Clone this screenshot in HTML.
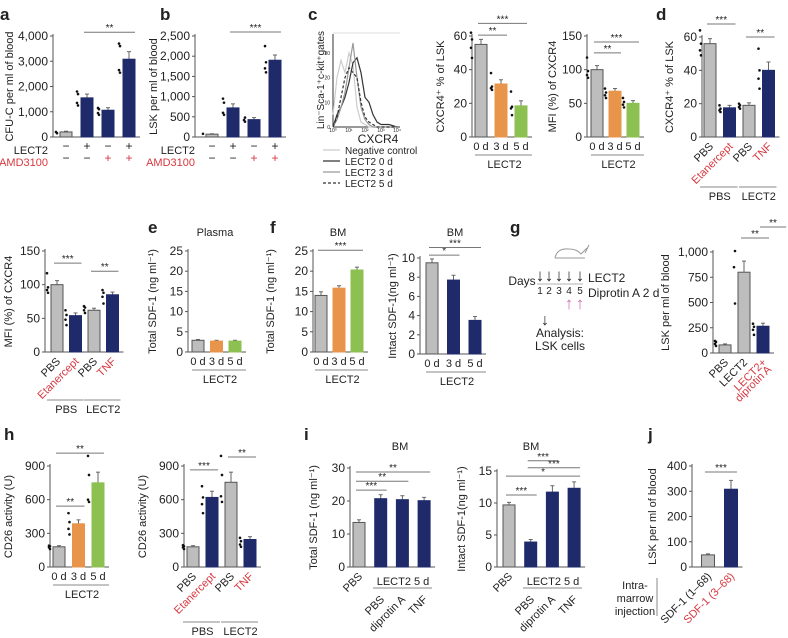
<!DOCTYPE html>
<html><head><meta charset="utf-8"><style>
body{margin:0;background:#fff}
svg{display:block;font-family:"Liberation Sans",sans-serif}
</style></head><body>
<svg id="fig" width="788" height="638" viewBox="0 0 788 638" xmlns="http://www.w3.org/2000/svg"></svg>
<script>
// ---- data ----
const aVals=[200,1550,1060,3080], aErr=[30,150,100,300], aDots=[[150,200],[1250,1350,1700,1800],[880,950,1100,1150],[2550,2650,3600,3700]];
const bVals=[70,720,430,1900], bErr=[10,100,50,130], bDots=[[80],[550,600,850,950],[380,420,480],[1600,1700,1850,2250]];
const c2Vals=[55,31.5,18.5], c2Err=[3,2.5,3], c2Dots=[[47,53,58,62],[28,29,30,38],[13,17,18,27]];
const c3Vals=[100,68,50], c3Err=[6,4,4], c3Dots=[[88,92,98,118],[58,62,66,72],[44,48,52,58]];
const dVals=[56,17.5,19,40], dErr=[3,1.5,1.5,5], dDots=[[49,52,56,64],[15,16,17,19],[17,18,19,20],[29,35,40,53]];
const d2Vals=[100,54,62,85], d2Err=[6,4,3,4], d2Dots=[[88,92,96,117],[40,48,55,62],[58,62,66,68],[72,82,88,92]];
const eVals=[2.9,2.7,2.7], eErr=[0.2,0.2,0.2];
const fVals=[14,15.8,20.3], fErr=[0.9,0.6,0.7];
const f2Vals=[9.5,7.7,3.5], f2Err=[0.4,0.5,0.4];
const gVals=[80,800,265], gErr=[10,110,30], gDots=[[70,90,110,120],[490,850,1010],[180,230,260,290]];
const h1Vals=[180,385,750], h1Err=[10,35,95], h1Dots=[[160,175,185,190],[290,340,400,480],[580,600,820,990]];
const h2Vals=[180,620,755,245], h2Err=[10,55,90,25], h2Dots=[[160,175,185,195],[480,560,620,720],[580,630,820,990],[180,200,230,260]];
const i1Vals=[13.5,20.7,20.4,20.1], i1Err=[0.8,1.2,1.2,1.0];
const i2Vals=[9.7,3.9,11.7,12.3], i2Err=[0.4,0.4,1.0,1.0];
const jVals=[48,308], jErr=[4,35];
const histX=[0,0.25,0.5,0.75,1,1.25,1.5,1.75,2,2.25,2.5,2.75,3,3.5,4];
const histNeg=[5,20,27,22,30,25,8,2,1,0,0,0,0,0,0];
const hist0=[0,5,8,12,18,26,28,22,12,10,5,2,1,1,0];
const hist3=[0,3,8,14,24,34,20,8,3,1,0,0,0,0,0];
const hist5=[0,4,12,20,24,22,20,10,4,2,1,0,0,0,0];

const G='#bdbdbd',N='#1f2a6b',O='#e8944a',GR='#8cc152',RED='#d8383f';
const S=document.getElementById('fig');
const NS='http://www.w3.org/2000/svg';
function el(tag,attrs,txt){const e=document.createElementNS(NS,tag);for(const k in attrs)e.setAttribute(k,attrs[k]);if(txt!==undefined)e.textContent=txt;S.appendChild(e);return e;}
function txt(x,y,s,size,opt){opt=opt||{};const e=el('text',{x:x,y:y,'font-size':size,fill:opt.fill||'#222','text-anchor':opt.anchor||'middle','font-weight':opt.bold?'bold':'normal'},s);
 if(opt.rot!==undefined)e.setAttribute('transform','rotate('+opt.rot+' '+x+' '+y+')');
 
 return e;}
function line(x1,y1,x2,y2,c,w,dash){const e=el('line',{x1:x1,y1:y1,x2:x2,y2:y2,stroke:c||'#444','stroke-width':w||1});if(dash)e.setAttribute('stroke-dasharray',dash);return e;}

function panel(p){
 const sy=v=>p.y0-(v/p.max)*(p.y0-p.y1);
 const cx=i=>p.start+i*p.step;
 const n=p.vals.length, w=p.w||12;
 const right=cx(n-1)+w/2+5;
 const ya=line(p.ax,p.y1-2,p.ax,p.y0,'#555',1);
 
 const xa=line(p.ax,p.y0,right,p.y0,'#555',1);
 
 p.ticks.forEach(t=>{line(p.ax-3,sy(t),p.ax,sy(t),'#555',1);
  txt(p.ax-5,sy(t)+4,t.toLocaleString('en-US'),p.tfs||12,{anchor:'end',name:p.id+'-tick-label'});});
 txt(p.tx,(p.y0+p.y1)/2,p.title,p.yfs||11,{rot:-90,name:p.id+'-y-axis-title'});
 p.vals.forEach((v,i)=>{
  const x=cx(i)-w/2,yt=sy(v);
  if(p.err){line(cx(i),yt,cx(i),sy(v+p.err[i]),'#666',1);line(cx(i)-2,sy(v+p.err[i]),cx(i)+2,sy(v+p.err[i]),'#666',1);}
  const r=el('rect',{x:x,y:yt,width:w,height:p.y0-yt,fill:p.colors[i],stroke:p.colors[i]===G?'#555':p.colors[i],'stroke-width':1});
  
  
  if(p.dots)p.dots[i].forEach((d,k)=>{const c=el('circle',{cx:x-3-(k%2),cy:sy(d),r:1.3,fill:'#111'});
   
   });
 });
 (p.sig||[]).forEach(s=>{const yy=sy(s[2]);const x1=cx(s[0])-3,x2=cx(s[1])+6;
  const l=line(x1,yy,x2,yy,'#777',1);
  txt((x1+x2)/2,yy-1,s[3],10,{name:p.id+'-significance-stars'});});
 if(p.xl){const ly=p.y0+13;p.xl.forEach((s,i)=>txt(cx(i),ly,s,11,{name:p.id+'-x-label'}));
  if(p.group){line(cx(0)-w/2,ly+5,right,ly+5,'#888',1);txt((cx(0)+right)/2-2,ly+18,p.group,11,{name:p.id+'-group-label'});}}
 if(p.rl){p.rl.forEach((s,i)=>txt(cx(i)+4,p.y0+10,s[0],11,{anchor:'end',rot:-45,fill:s[1]?RED:'#222',name:p.id+'-x-label'}));}
 if(p.groups){p.groups.forEach(g=>{line(cx(g[0])-w/2-4,g[3],cx(g[1])+w/2+2,g[3],'#888',1);txt((cx(g[0])+cx(g[1]))/2,g[3]+13,g[2],11,{name:p.id+'-group-label'});});}
 return {sy,cx};
}
function letter(x,y,s){txt(x,y,s,17,{anchor:'start',bold:true,name:'panel-letter-'+s});}

// ---- Row 1 ----
letter(0,20,'a');
panel({id:'a',ax:53,y0:137,y1:36,max:4000,ticks:[0,1000,2000,3000,4000],vals:aVals,err:aErr,dots:aDots,colors:[G,N,N,N],start:66,step:21,tx:13,title:'CFU-C per ml of blood',sig:[[1,3,4150,'**']]});
[['−','+','−','+'],['−','−','+','+']].forEach((r,ri)=>r.forEach((s,i)=>txt(66+i*21,150+ri*12,s,12,{fill:ri&&s=='+'?RED:'#222',name:'a-treatment-sign'})));
txt(48,154,'LECT2',11,{anchor:'end',name:'a-lect2-label'});txt(48,166,'AMD3100',11,{anchor:'end',fill:RED,name:'a-amd3100-label'});
letter(160,20,'b');
panel({id:'b',ax:195,y0:137,y1:36,max:2500,ticks:[0,500,1000,1500,2000,2500],vals:bVals,err:bErr,dots:bDots,colors:[G,N,N,N],start:212,step:21,tx:157,title:'LSK per ml of blood',sig:[[1,3,2600,'***']]});
[['−','+','−','+'],['−','−','+','+']].forEach((r,ri)=>r.forEach((s,i)=>txt(212+i*21,150+ri*12,s,12,{fill:ri&&s=='+'?RED:'#222',name:'b-treatment-sign'})));
txt(195,154,'LECT2',11,{anchor:'end',name:'b-lect2-label'});txt(195,166,'AMD3100',11,{anchor:'end',fill:RED,name:'b-amd3100-label'});

letter(308,20,'c');
(function(){const hx=v=>333+v*16,hy=v=>127-v*2.47;
 line(333,34,333,127,'#333',1);line(333,127,400,127,'#333',1);
 line(333,33,400,33,'#ddd',1);
 [0,10,20,30].forEach(t=>txt(330,hy(t)+2,t,5,{anchor:'end',name:'c-hist-tick'}));
 [0,1,2,3,4].forEach(t=>txt(hx(t),132,'10'+['⁰','¹','²','³','⁴'][t],5,{name:'c-hist-xtick'}));
 const series=[[histNeg,'#ccc',null,'negative-control-line'],[hist0,'#333',null,'lect2-0d-line'],[hist3,'#999',null,'lect2-3d-line'],[hist5,'#333','3,2','lect2-5d-line']];
 series.forEach(s=>{const pts=histX.map((x,i)=>hx(x)+','+hy(s[0][i])).join(' ');
  const pl=el('polyline',{points:pts,fill:'none',stroke:s[1],'stroke-width':1.2});if(s[2])pl.setAttribute('stroke-dasharray',s[2]);
  });
 txt(324,80,'Lin⁻Sca-1⁺c-kit⁺gates',10,{rot:-90,name:'c-hist-y-title'});
 txt(378,143,'CXCR4',12,{name:'c-hist-x-title'});
 const leg=[['Negative control','#ccc',null],['LECT2 0 d','#333',null],['LECT2 3 d','#999',null],['LECT2 5 d','#333','3,2']];
 leg.forEach((l,i)=>{const y=150+i*11;const ln=line(323,y,340,y,l[1],1.3,l[2]);txt(345,y+4,l[0],10,{anchor:'start',name:'legend-entry'});});
})();
panel({id:'c2',ax:472,y0:137,y1:36,max:60,ticks:[0,20,40,60],vals:c2Vals,err:c2Err,dots:c2Dots,colors:[G,O,GR],start:481,step:20,tx:444,title:'CXCR4⁺ % of LSK',sig:[[0,1,60.5,'**'],[0,2,67.5,'***']],xl:['0 d','3 d','5 d'],group:'LECT2'});
panel({id:'c3',ax:587,y0:137,y1:36,max:150,ticks:[0,50,100,150],vals:c3Vals,err:c3Err,dots:c3Dots,colors:[G,O,GR],start:597,step:18,tx:556,title:'MFI (%) of CXCR4',sig:[[0,1,125,'**'],[0,2,141,'***']],xl:['0 d','3 d','5 d'],group:'LECT2'});
letter(656,20,'d');
panel({id:'d',ax:702,y0:137,y1:37,max:60,ticks:[0,20,40,60],vals:dVals,err:dErr,dots:dDots,colors:[G,N,G,N],start:710,step:19.5,tx:673,title:'CXCR4⁺ % of LSK',sig:[[0,1,67.8,'***'],[2,3,60,'**']],rl:[['PBS'],['Etanercept',1],['PBS'],['TNF',1]],groups:[[0,1,'PBS',187],[2,3,'LECT2',187]]});

// ---- Row 2 ----
panel({id:'d2',ax:45,y0:352,y1:251,max:150,ticks:[0,50,100,150],vals:d2Vals,err:d2Err,dots:d2Dots,colors:[G,N,G,N],start:57,step:18.5,tx:12,title:'MFI (%) of CXCR4',sig:[[0,1,132,'***'],[2,3,120,'**']],rl:[['PBS'],['Etanercept',1],['PBS'],['TNF',1]],groups:[[0,1,'PBS',400],[2,3,'LECT2',400]]});
letter(148,233,'e');txt(215,236,'Plasma',11,{name:'e-title'});
panel({id:'e',ax:188,y0:352,y1:251,max:25,ticks:[0,5,10,15,20,25],vals:eVals,err:eErr,colors:[G,O,GR],start:198,step:18.5,tx:156,title:'Total SDF-1 (ng ml⁻¹)',xl:['0 d','3 d','5 d'],group:'LECT2'});
letter(270,233,'f');txt(338,236,'BM',11,{name:'f-title'});
panel({id:'f',ax:313,y0:352,y1:251,max:25,ticks:[0,5,10,15,20,25],vals:fVals,err:fErr,colors:[G,O,GR],start:321,step:18,tx:274,title:'Total SDF-1 (ng ml⁻¹)',sig:[[0,2,25.2,'***']],xl:['0 d','3 d','5 d'],group:'LECT2'});
txt(455,236,'BM',11,{name:'f2-title'});
panel({id:'f2',ax:420,y0:354,y1:258,max:10,ticks:[0,2,4,6,8,10],vals:f2Vals,err:f2Err,colors:[G,N,N],start:432,step:21.5,tx:396,title:'Intact  SDF-1(ng ml⁻¹)',sig:[[0,1,10.3,'*'],[0,2,11.1,'***']],xl:['0 d','3 d','5 d'],group:'LECT2'});
letter(510,233,'g');
(function(){const m=el('path',{d:'M555 258 q2 -10 14 -9 q8 0 12 5 l6 -6 M555 258 l30 0 M585 253 l4 -8',fill:'none',stroke:'#999','stroke-width':1});
 
 txt(522,285,'Days',12,{name:'days-label'});
 [540,549,559,569,580].forEach((x,i)=>{txt(x,281,'↓',17,{name:'lect2-injection-arrow'});txt(x,294,String(i+1),10,{name:'day-number'});});
 line(537,284,583,284,'#999',0.7);
 [569,580].forEach(x=>txt(x,309,'↑',17,{fill:'#d070b0',name:'diprotin-arrow'}));
 txt(588,282,'LECT2',12,{anchor:'start',name:'lect2-legend'});
 txt(588,297,'Diprotin A 2 d',12,{anchor:'start',name:'diprotin-legend'});
 txt(545,325,'↓',16,{name:'analysis-arrow'});
 txt(560,337,'Analysis:',12,{name:'analysis-label'});txt(560,350,'LSK cells',12,{name:'lsk-cells-label'});
})();
panel({id:'g',ax:713,y0:353,y1:252,max:1000,ticks:[0,250,500,750,1000],vals:gVals,err:gErr,dots:gDots,colors:[G,G,N],start:725,step:19,tx:669,title:'LSK per ml of blood',sig:[[1,2,1139,'**'],[2,2.9,1247,'**']],rl:[['PBS'],['LECT2'],['LECT2+',1]]});
txt(772,370,'diprotin A',11,{anchor:'end',rot:-45,fill:RED,name:'g-x-label'});

// ---- Row 3 ----
letter(4,440,'h');
panel({id:'h1',ax:50,y0:567,y1:466,max:900,ticks:[0,300,600,900],vals:h1Vals,err:h1Err,dots:h1Dots,colors:[G,O,GR],start:59,step:19.5,tx:12,title:'CD26 activity (U)',sig:[[0,1,543,'**'],[0,2,1015,'**']],xl:['0 d','3 d','5 d'],group:'LECT2'});
panel({id:'h2',ax:184,y0:567,y1:466,max:900,ticks:[0,300,600,900],vals:h2Vals,err:h2Err,dots:h2Dots,colors:[G,N,G,N],start:193,step:19,tx:146,title:'CD26 activity (U)',sig:[[0,1,865,'***'],[2,3,980,'**']],rl:[['PBS'],['Etanercept',1],['PBS'],['TNF',1]],groups:[[0,1,'PBS',622],[2,3,'LECT2',622]]});
letter(304,440,'i');txt(400,450,'BM',11,{name:'i1-title'});
panel({id:'i1',ax:350,y0:567,y1:468,max:30,ticks:[0,10,20,30],vals:i1Vals,err:i1Err,colors:[G,N,N,N],start:359,step:21.7,tx:317,title:'Total SDF-1 (ng ml⁻¹)',sig:[[0,1,23.3,'***'],[0,2,26,'**'],[0,3,28.8,'**']],rl:[['PBS']]});
[['PBS',381],['diprotin A',402],['TNF',424]].forEach(s=>txt(s[1]+4,600,s[0],11,{anchor:'end',rot:-45,name:'i1-x-label'}));
line(373,588,432,588,'#888',1);txt(403,585,'LECT2  5 d',11,{name:'i1-group-label'});
txt(531,450,'BM',11,{name:'i2-title'});
panel({id:'i2',ax:497,y0:567,y1:471,max:15,ticks:[0,5,10,15],vals:i2Vals,err:i2Err,colors:[G,N,N,N],start:509,step:21.7,tx:465,title:'Intact  SDF-1(ng ml⁻¹)',sig:[[0,1,11.25,'***'],[0,3,14.2,'*'],[1,3,15.5,'***'],[1,2,16.6,'***']],rl:[['PBS']]});
[['PBS',531],['diprotin A',552],['TNF',574]].forEach(s=>txt(s[1]+4,600,s[0],11,{anchor:'end',rot:-45,name:'i2-x-label'}));
line(523,588,582,588,'#888',1);txt(553,585,'LECT2  5 d',11,{name:'i2-group-label'});
letter(648,440,'j');
panel({id:'j',ax:692,y0:567,y1:466,max:400,ticks:[0,100,200,300,400],vals:jVals,err:jErr,colors:[G,N],start:708,step:23,w:13,tx:656,title:'LSK per ml of blood',sig:[[0,1,376,'***']],rl:[['SDF-1 (1–68)'],['SDF-1 (3–68)',1]]});
txt(635,589,'Intra-',11,{name:'intramarrow-label'});txt(635,602,'marrow',11,{name:'intramarrow-label'});txt(635,615,'injection',11,{name:'intramarrow-label'});
line(657,578,657,616,'#888',1);
</script>
</body></html>
